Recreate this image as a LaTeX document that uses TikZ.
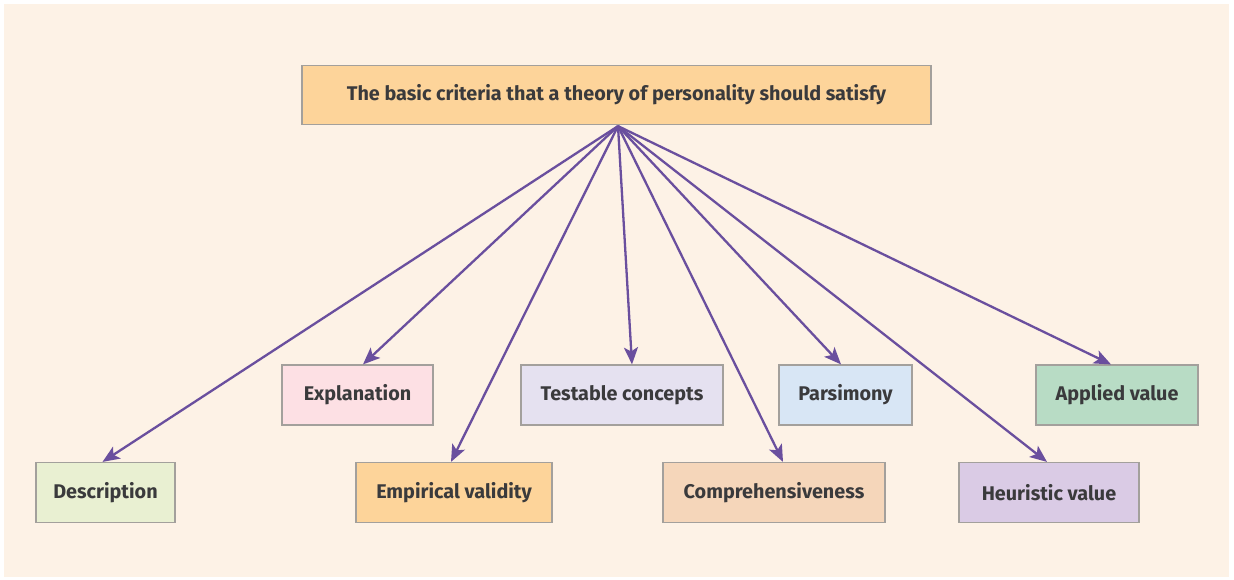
\documentclass[tikz,border=0pt]{standalone}
\usepackage{fontspec}
\setmainfont{Fira Sans}
\usetikzlibrary{arrows.meta}
\definecolor{panel}{HTML}{FDF2E6}
\definecolor{frame}{HTML}{A3A09C}
\definecolor{ink}{HTML}{3A3A3C}
\definecolor{link}{HTML}{6A4F9E}
\definecolor{cTop}{HTML}{FDD49A}
\definecolor{cDesc}{HTML}{E9F0D2}
\definecolor{cExpl}{HTML}{FDE0E4}
\definecolor{cEmp}{HTML}{FDD49A}
\definecolor{cTest}{HTML}{E5E1F0}
\definecolor{cComp}{HTML}{F5D6BA}
\definecolor{cPars}{HTML}{D8E6F5}
\definecolor{cAppl}{HTML}{B8DCC5}
\definecolor{cHeur}{HTML}{DACBE5}
\begin{document}
\begin{tikzpicture}[x=1pt,y=-1pt,
  box/.style={draw=frame, line width=1.2pt, inner sep=0pt, text=ink,
    font=\fontsize{19.8}{23}\selectfont\bfseries, minimum height=60pt},
  arr/.style={draw=link, line width=2.3pt,
    -{Stealth[length=17pt,width=14pt,inset=4pt]}}]
  % page and cream panel
  \useasboundingbox (0,0) rectangle (1234,579);
  \fill[white] (0,0) rectangle (1234,579);
  \fill[panel] (4,4) rectangle (1229,577);

  % heading box
  \node[box, fill=cTop, minimum width=629pt, minimum height=59pt] (top) at (616.5,95) {The basic criteria that a theory of personality should satisfy};

  % criteria, upper row
  \node[box, fill=cExpl, minimum width=151pt] (expl) at (357.5,395) {Explanation};
  \node[box, fill=cTest, minimum width=202pt] (test) at (622,395) {Testable concepts};
  \node[box, fill=cPars, minimum width=133pt] (pars) at (845.5,395) {Parsimony};
  \node[box, fill=cAppl, minimum width=162pt] (appl) at (1117,395) {Applied value};

  % criteria, lower row
  \node[box, fill=cDesc, minimum width=139pt] (desc) at (105.5,492.5) {Description};
  \node[box, fill=cEmp, minimum width=196pt] (emp) at (454,492.5) {Empirical validity};
  \node[box, fill=cComp, minimum width=222pt] (comp) at (774,492.5) {Comprehensiveness};
  \node[box, fill=cHeur, minimum width=180pt] (heur) at (1049,492.5) {Heuristic value};

  % connectors fanning out from the heading
  \coordinate (hub) at ([xshift=1.5pt,yshift=-1pt]top.south);
  \draw[arr] (hub) -- ([xshift=-3pt]desc.north);
  \draw[arr] (hub) -- ([xshift=5.5pt]expl.north);
  \draw[arr] (hub) -- ([xshift=-3pt]emp.north);
  \draw[arr] (hub) -- ([xshift=10pt]test.north);
  \draw[arr] (hub) -- ([xshift=9pt]comp.north);
  \draw[arr] (hub) -- ([xshift=-4.5pt]pars.north);
  \draw[arr] (hub) -- ([xshift=-6pt]appl.north);
  \draw[arr] (hub) -- ([xshift=-2pt]heur.north);
\end{tikzpicture}
\end{document}
